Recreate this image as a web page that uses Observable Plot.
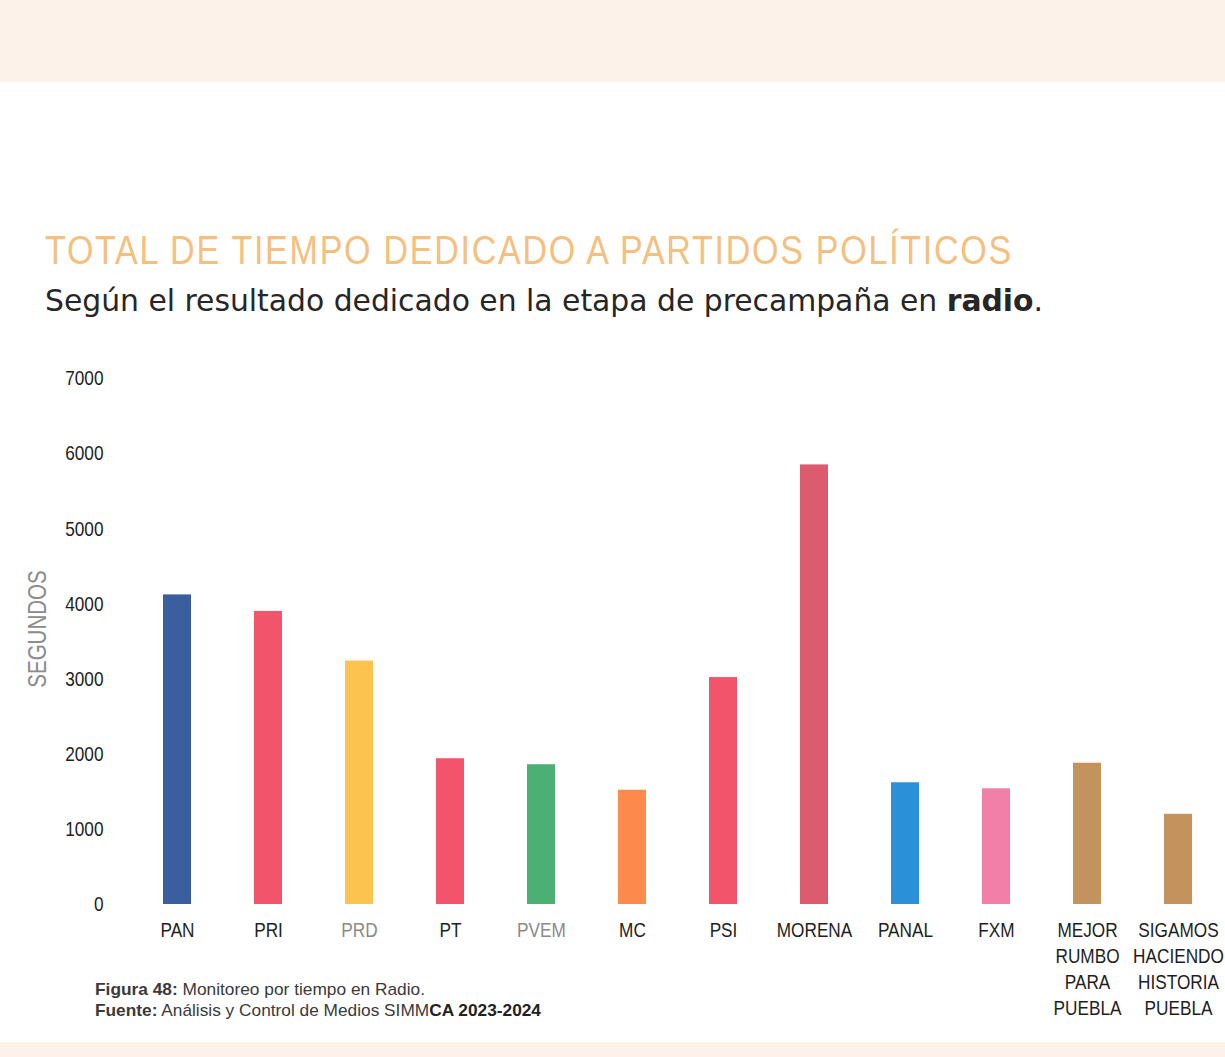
<!DOCTYPE html>
<html>
<head>
<meta charset="utf-8">
<script src="https://cdn.jsdelivr.net/npm/d3@7"></script>
<script src="https://cdn.jsdelivr.net/npm/@observablehq/plot@0.6"></script>
<style>
  html, body { margin: 0; padding: 0; background: #fff; }
  #page { position: relative; width: 1225px; height: 1057px; overflow: hidden; background: #fff; }
  #topband { position: absolute; left: 0; top: 0; width: 1225px; height: 82px; background: #fcf2ea; }
  #botband { position: absolute; left: 0; top: 1042px; width: 1225px; height: 15px; background: #fcf2ea; }
  #chart { position: absolute; left: 0; top: 340px; }
  #texts { position: absolute; left: 0; top: 0; pointer-events: none; }
  #ylabel { position: absolute; left: 37px; top: 629px; transform: translate(-50%, -50%) rotate(-90deg) scaleX(0.82);
            font-family: "Liberation Sans", Arial, sans-serif; font-size: 25px;
            color: #8c8c8c; white-space: nowrap; }
</style>
</head>
<body>
<div id="page">
  <div id="topband"></div>
  <div id="botband"></div>
  <div id="chart"></div>
  <div id="ylabel">SEGUNDOS</div>
  <svg id="texts" width="1225" height="1057" xmlns="http://www.w3.org/2000/svg">
    <text x="45" y="264" font-family="Liberation Sans, sans-serif" font-size="40"
          fill="#f4c07f" textLength="968" lengthAdjust="spacingAndGlyphs" letter-spacing="2">TOTAL DE TIEMPO DEDICADO A PARTIDOS POLÍTICOS</text>
    <text x="45" y="311" font-family="DejaVu Sans Condensed, DejaVu Sans, sans-serif" font-size="30"
          fill="#262626" textLength="998" lengthAdjust="spacingAndGlyphs">Según el resultado dedicado en la etapa de precampaña en <tspan font-weight="bold">radio</tspan>.</text>
    <text x="95" y="995" font-family="Liberation Sans, Arial, sans-serif" font-size="17" fill="#3a3a3a" textLength="330" lengthAdjust="spacingAndGlyphs"><tspan font-weight="bold">Figura 48:</tspan> Monitoreo por tiempo en Radio.</text>
    <text x="95" y="1016" font-family="Liberation Sans, Arial, sans-serif" font-size="17" fill="#3a3a3a" textLength="446" lengthAdjust="spacingAndGlyphs"><tspan font-weight="bold">Fuente:</tspan> Análisis y Control de Medios SIMM<tspan font-weight="bold" fill="#222">CA 2023-2024</tspan></text>
  </svg>
</div>
<script>
// ---- Data ----
const categories = ["PAN", "PRI", "PRD", "PT", "PVEM", "MC", "PSI", "MORENA", "PANAL", "FXM",
  "MEJOR RUMBO PARA PUEBLA", "SIGAMOS HACIENDO HISTORIA PUEBLA"];
const tickLabels = ["PAN", "PRI", "PRD", "PT", "PVEM", "MC", "PSI", "MORENA", "PANAL", "FXM",
  "MEJOR\nRUMBO\nPARA\nPUEBLA", "SIGAMOS\nHACIENDO\nHISTORIA\nPUEBLA"];
const seconds = [4120, 3900, 3240, 1940, 1860, 1520, 3020, 5850, 1620, 1540, 1880, 1200];
const barColors = ["#3b5f9e", "#f2556b", "#fcc34f", "#f2556b", "#4caf74", "#fb8a4c", "#f2556b",
  "#dc5b6e", "#2a90d8", "#f27fa7", "#c4925c", "#c4925c"];
const labelColors = ["#1e1e1e", "#1e1e1e", "#8a8a8a", "#1e1e1e", "#8a8a8a", "#1e1e1e", "#1e1e1e",
  "#1e1e1e", "#1e1e1e", "#1e1e1e", "#1e1e1e", "#1e1e1e"];
const yTicks = [0, 1000, 2000, 3000, 4000, 5000, 6000, 7000];

const table = categories.map((c, i) => ({party: c, seconds: seconds[i], color: barColors[i]}));

const chart = Plot.plot({
  width: 1225,
  height: 690,
  marginLeft: 160,
  marginRight: 30,
  marginTop: 38,
  marginBottom: 126,
  style: {fontFamily: "'Liberation Sans', Arial, sans-serif", background: "transparent", color: "#1e1e1e"},
  x: {domain: categories, paddingInner: 0.69, paddingOuter: 0},
  y: {domain: [0, 7000]},
  color: {type: "identity"},
  marks: [
    Plot.barY(table, {x: "party", y: "seconds", fill: "color"}),
    Plot.axisY({ticks: yTicks, tickSize: 0, tickPadding: 57, fontSize: 21, label: null, tickFormat: d => String(d)}),
    Plot.axisX({tickSize: 0, tickPadding: 14, fontSize: 21, label: null, lineHeight: 1.24,
      tickFormat: d => tickLabels[categories.indexOf(d)],
      fill: d => labelColors[categories.indexOf(d)]})
  ]
});
// Narrow the axis lettering (the reference uses a condensed face) by scaling each label about its anchor
chart.querySelectorAll("g[aria-label='y-axis tick label'] text, g[aria-label='x-axis tick label'] text").forEach(t => {
  const tr = t.getAttribute("transform") || "";
  t.setAttribute("transform", tr + " scale(0.82,1)");
});
document.getElementById("chart").appendChild(chart);
</script>
</body>
</html>
